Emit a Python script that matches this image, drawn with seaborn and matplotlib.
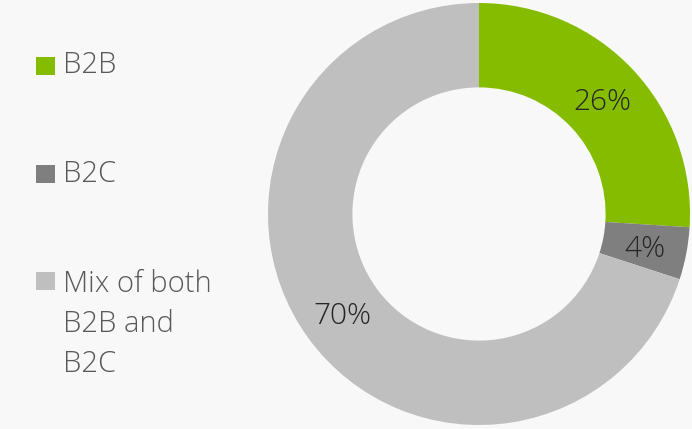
import matplotlib
matplotlib.use("Agg")
import matplotlib.pyplot as plt
from matplotlib.patches import Rectangle
import seaborn as sns

# Share of companies by business model
categories = ["B2B", "B2C", "Mix of both\nB2B and\nB2C"]
shares = [26, 4, 70]
palette = ["#86bc00", "#7f7f7f", "#bfbfbf"]

sns.set_theme(style="white")
plt.rcParams["font.family"] = ["Open Sans", "DejaVu Sans"]

W, H = 692, 429
fig = plt.figure(figsize=(W / 100, H / 100), dpi=100)
fig.patch.set_facecolor("#f8f8f8")

# Donut placed by pixel geometry: centre (479, 214), outer radius 211
cx, cy, r = 479, 214, 211
ax = fig.add_axes([(cx - r) / W, (H - cy - r) / H, 2 * r / W, 2 * r / H])
ax.set_facecolor("none")
wedges, _, autotexts = ax.pie(
    shares,
    colors=palette,
    startangle=90,
    counterclock=False,
    radius=1.0,
    pctdistance=0.8,
    autopct=lambda p: f"{p:.0f}%",
    wedgeprops=dict(width=0.4, linewidth=0),
    textprops=dict(fontsize=21.5, color="#262626", fontweight="light"),
)
for t in autotexts:
    t.set_verticalalignment("center_baseline")
ax.set_xlim(-1, 1)
ax.set_ylim(-1, 1)
ax.set_aspect("equal")
ax.axis("off")

# Legend on the left
swatch_y = [66, 174, 281]
text_y = [65, 174, 270]
for label, color, ys, yt in zip(categories, palette, swatch_y, text_y):
    fig.patches.append(Rectangle((36 / W, (H - ys - 9) / H), 19 / W, 18 / H,
                                 transform=fig.transFigure, facecolor=color,
                                 edgecolor="none"))
    fig.text(63 / W, (H - yt) / H, label, fontsize=21, color="#595959",
             fontweight="light", va="top" if "\n" in label else "center",
             ha="left", linespacing=1.45)

fig.savefig("out.png", dpi=100, facecolor=fig.get_facecolor())
